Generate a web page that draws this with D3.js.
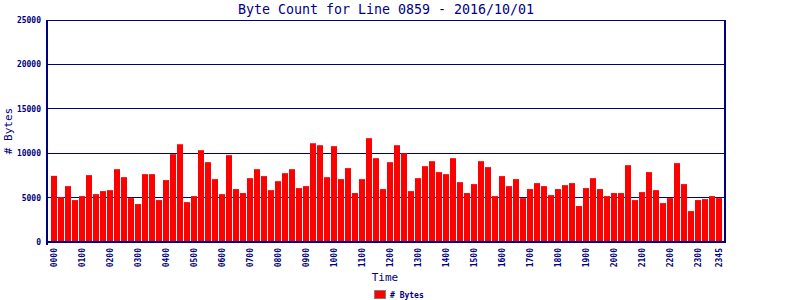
<!DOCTYPE html>
<meta charset="utf-8">
<style>
body { margin: 0; background: #fff; }
text { fill: #000080; font-family: "DejaVu Sans Mono", monospace; }
.grid line { stroke: #000080; stroke-width: 1px; shape-rendering: crispEdges; }
.frame { stroke: #000080; stroke-width: 1.2px; fill: none; shape-rendering: crispEdges; }
.tick-label { font-size: 8px; font-weight: bold; }
</style>
<svg width="800" height="300"></svg>
<script src="https://d3js.org/d3.v7.min.js"></script>
<script>

var title = "Byte Count for Line 0859 - 2016/10/01";

// 15 minute slots, 0000 .. 2345
var times = d3.range(96).map(function(i) {
  return d3.format("02")(Math.floor(i / 4)) + d3.format("02")((i % 4) * 15);
});

var bytes = [
  7450, 5060, 6290, 4720, 5170, 7530, 5390, 5730, 5840, 8200, 7300, 4940,
  4270, 7640, 7640, 4720, 6970, 9890, 11010, 4490, 5170, 10340, 8990, 7080,
  5390, 9780, 5960, 5510, 7190, 8200, 7420, 5840, 6850, 7750, 8200, 6070,
  6290, 11120, 10900, 7300, 10790, 7080, 8320, 5510, 7080, 11690, 9440, 5960,
  8990, 10900, 10000, 5730, 7190, 8540, 9100, 7870, 7640, 9440, 6740, 5510,
  6520, 9100, 8430, 5170, 7420, 6290, 7080, 4940, 5960, 6630, 6290, 5280,
  5960, 6400, 6630, 4050, 6070, 7190, 5960, 5170, 5510, 5510, 8650, 4720,
  5620, 7870, 5840, 4380, 4940, 8880, 6520, 3480, 4720, 4830, 5170, 4940
];

var yTicks = [0, 5000, 10000, 15000, 20000, 25000];

var svg = d3.select("svg"),
    plotLeft = 47, plotRight = 725, plotTop = 20, plotBottom = 242;

var x = d3.scaleBand()
    .domain(times)
    .range([51, 722])
    .paddingInner(1 / 7);

var y = d3.scaleLinear()
    .domain([0, 25000])
    .range([plotBottom, plotTop]);

// horizontal grid
svg.append("g")
    .attr("class", "grid")
  .selectAll("line")
    .data(yTicks)
  .enter().append("line")
    .attr("x1", plotLeft)
    .attr("x2", plotRight)
    .attr("y1", function(d) { return y(d); })
    .attr("y2", function(d) { return y(d); });

svg.append("g")
  .selectAll("rect")
    .data(bytes)
  .enter().append("rect")
    .attr("x", function(d, i) { return x(times[i]); })
    .attr("width", x.bandwidth())
    .attr("y", function(d) { return y(d); })
    .attr("height", function(d) { return plotBottom - y(d); })
    .style("fill", "#ff0000");

// frame (left, bottom, right)
svg.append("path")
    .attr("class", "frame")
    .attr("d", "M" + plotLeft + "," + plotTop + "V" + (plotBottom + 3) +
               "M" + (plotLeft - 1) + "," + plotBottom + "H" + (plotRight + 1) +
               "M" + plotRight + "," + plotTop + "V" + plotBottom);

// y tick labels
svg.append("g")
  .selectAll("text")
    .data(yTicks)
  .enter().append("text")
    .attr("class", "tick-label")
    .attr("x", 41)
    .attr("y", function(d) { return y(d) + 3; })
    .attr("text-anchor", "end")
    .text(function(d) { return d; });

// x tick labels: every hour plus the last slot
var xLabels = times.filter(function(t, i) { return i % 4 === 0 || i === times.length - 1; });

svg.append("g")
  .selectAll("text")
    .data(xLabels)
  .enter().append("text")
    .attr("class", "tick-label")
    .attr("transform", function(d) {
      return "translate(" + (x(d) + x.bandwidth() / 2 + 3) + ",248) rotate(-90)";
    })
    .attr("text-anchor", "end")
    .text(function(d) { return d; });

svg.append("text")
    .attr("x", (plotLeft + plotRight) / 2)
    .attr("y", 14)
    .attr("text-anchor", "middle")
    .style("font-size", "13.3px")
    .text(title);

svg.append("text")
    .attr("transform", "translate(12," + ((plotTop + plotBottom) / 2) + ") rotate(-90)")
    .attr("text-anchor", "middle")
    .style("font-size", "11px")
    .text("# Bytes");

svg.append("text")
    .attr("x", 385)
    .attr("y", 281)
    .attr("text-anchor", "middle")
    .style("font-size", "11px")
    .text("Time");

// legend
svg.append("rect")
    .attr("x", 374.5)
    .attr("y", 290.5)
    .attr("width", 11)
    .attr("height", 8)
    .style("fill", "#ff0000")
    .style("stroke", "#808080");

svg.append("text")
    .attr("class", "tick-label")
    .attr("x", 390)
    .attr("y", 298)
    .text("# Bytes");

</script>
